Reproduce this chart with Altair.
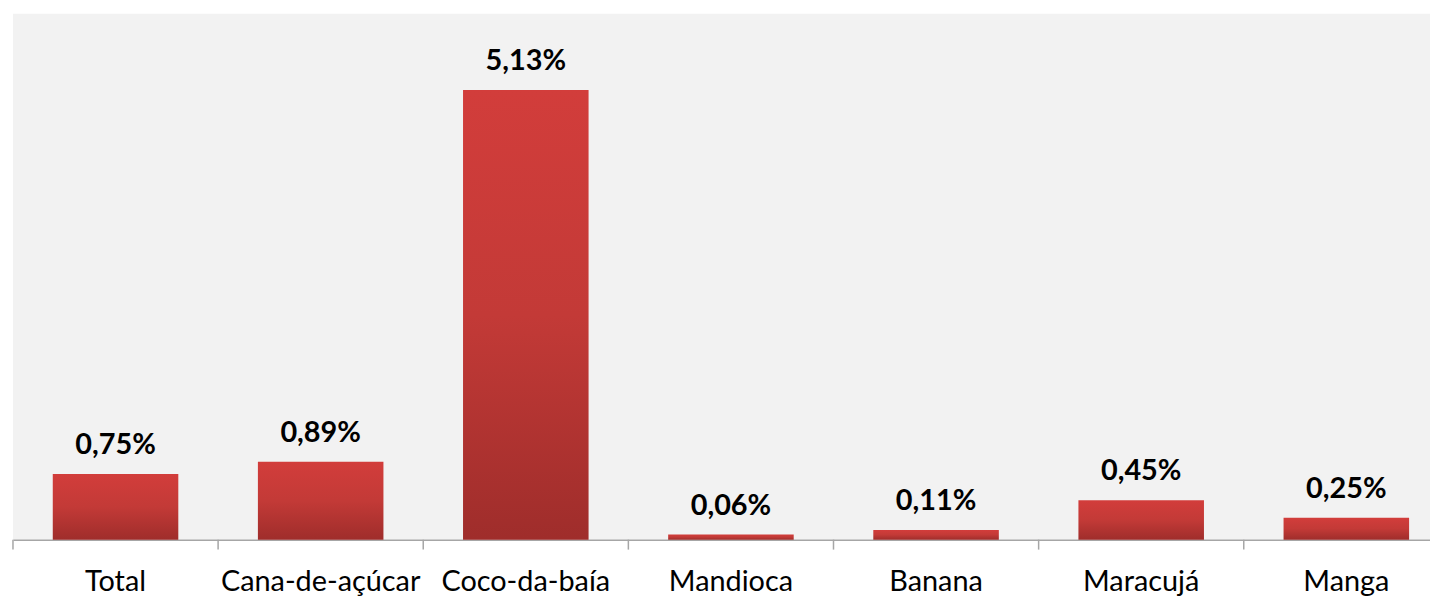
import altair as alt
import pandas as pd

categories = ["Total", "Cana-de-açúcar", "Coco-da-baía", "Mandioca", "Banana", "Maracujá", "Manga"]
values = [0.75, 0.89, 5.13, 0.06, 0.11, 0.45, 0.25]
labels = [f"{v:.2f}".replace(".", ",") + "%" for v in values]

df = pd.DataFrame({"cat": categories, "val": values, "lab": labels})

FONT = "Lato"
x_scale = alt.Scale(domain=categories, range=[0, 1444], paddingInner=0, paddingOuter=0)
y_scale = alt.Scale(domain=[0, 6])

base = alt.Chart(df)

gradient = alt.Gradient(
    gradient="linear",
    x1=0, y1=0, x2=0, y2=1,
    stops=[
        alt.GradientStop(color="#d23d3b", offset=0),
        alt.GradientStop(color="#c33a37", offset=0.5),
        alt.GradientStop(color="#9f2d2b", offset=1),
    ],
)

bars = base.mark_bar(width={"band": 0.612}, color=gradient).encode(
    x=alt.X("cat:N", sort=categories, scale=x_scale,
            axis=alt.Axis(title=None, ticks=False, tickSize=0, labelPadding=51,
                          labelBaseline="alphabetic", labelAngle=0, labelLimit=0,
                          labelFont=FONT, labelFontSize=29, labelColor="#000000",
                          domainColor="#a6a6a6", domainWidth=1.5, labelOverlap=False)),
    y=alt.Y("val:Q", scale=y_scale, axis=None),
)

texts = base.mark_text(font=FONT, fontSize=29, fontWeight="bold", color="#000000",
                       baseline="alphabetic", align="center", dy=-20).encode(
    x=alt.X("cat:N", sort=categories, scale=x_scale),
    y=alt.Y("val:Q", scale=y_scale),
    text="lab:N",
)

ticks = base.mark_rule(color="#a6a6a6", strokeWidth=1.5).encode(
    x=alt.X("cat:N", sort=categories, scale=x_scale, bandPosition=0),
    y=alt.value(529),
    y2=alt.value(539),
)

chart = alt.layer(bars, texts, ticks).properties(
    width=1425, height=529,
    autosize=alt.AutoSizeParams(type="none"),
    padding={"left": 5, "top": 4, "right": 0, "bottom": 56},
    background="#ffffff",
).configure_view(fill="#f2f2f2", strokeWidth=0)

chart.save("out.html", embed_options={"renderer": "svg", "actions": False})
